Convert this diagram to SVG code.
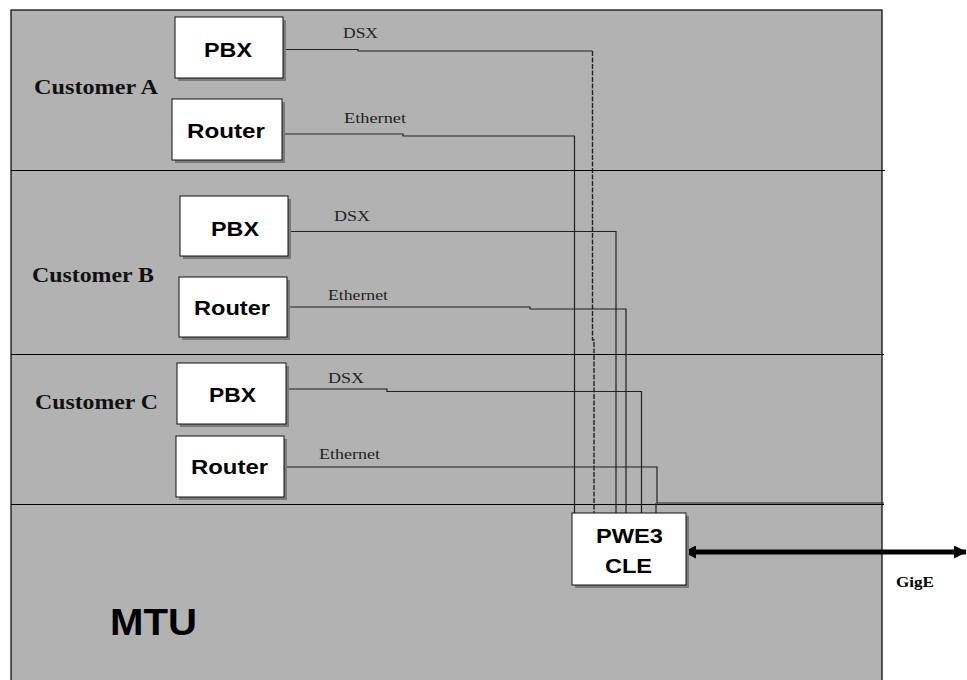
<svg xmlns="http://www.w3.org/2000/svg" width="967" height="680" viewBox="0 0 967 680">
  <style>
    .panel { fill: #b2b2b2; stroke: #000; stroke-width: 1.2; }
    .divider { stroke: #000; stroke-width: 1.2; fill: none; }
    .shadow { fill: #7a7a7a; }
    .box { fill: #fff; stroke: #111; stroke-width: 1; }
    .boxtext { font-family: "Liberation Sans", Arial, sans-serif; font-weight: bold; font-size: 20px; fill: #000; text-anchor: start; }
    .group-label { font-family: "Liberation Serif", "Times New Roman", serif; font-weight: bold; font-size: 20px; fill: #111; }
    .link-label { font-family: "Liberation Serif", "Times New Roman", serif; font-size: 14px; fill: #222; }
    .wire { fill: none; stroke: #222; stroke-width: 1.2; }
    .wire-dash { fill: none; stroke: #222; stroke-width: 1.4; stroke-dasharray: 5 1.5; }
    .trunk { fill: none; stroke: #000; stroke-width: 5; }
  </style>
  <defs>
    <!-- arrowhead drawn pointing along the path; reversed at the start -->
    <marker id="head" viewBox="0 0 12 12" refX="11" refY="6" markerWidth="13" markerHeight="13" markerUnits="userSpaceOnUse" orient="auto-start-reverse">
      <path d="M12,6 L0,0 L0,12 Z" fill="#000"/>
    </marker>
  </defs>

  <rect width="967" height="680" fill="#fff"/>

  <!-- MTU enclosure and customer bands -->
  <rect class="panel" x="11" y="10" width="871" height="680"/>
  <g id="bands">
    <line class="divider" x1="11" y1="170.5" x2="885" y2="170.5"/>
    <line class="divider" x1="11" y1="354.5" x2="884" y2="354.5"/>
    <line class="divider" x1="11" y1="504.5" x2="884" y2="504.5"/>
  </g>

  <!-- customer labels -->
  <text class="group-label" x="34" y="94" textLength="124" lengthAdjust="spacingAndGlyphs">Customer A</text>
  <text class="group-label" x="32" y="282" textLength="122" lengthAdjust="spacingAndGlyphs">Customer B</text>
  <text class="group-label" x="35" y="409" textLength="123" lengthAdjust="spacingAndGlyphs">Customer C</text>
  <text x="110" y="635" font-family="Liberation Sans, Arial, sans-serif" font-weight="bold" font-size="36" textLength="87" lengthAdjust="spacingAndGlyphs" fill="#000">MTU</text>

  <!-- connectors -->
  <g id="connectors">
    <!-- Customer A -->
    <polyline class="wire" points="283,49.5 358,49.5 358,51 592.5,51"/>
    <polyline class="wire-dash" points="592.5,51 592.5,340 594,340 594,513"/>
    <polyline class="wire" points="282,134 403,134 403,136 574.5,136 574.5,513"/>
    <!-- Customer B -->
    <polyline class="wire" points="288,231.5 616,231.5 616,513"/>
    <polyline class="wire" points="287,307 530,307 530,309 626,309 626,513"/>
    <!-- Customer C -->
    <polyline class="wire" points="286,389 387,389 387,391.5 641.5,391.5 641.5,513"/>
    <polyline class="wire" points="284,467 657,467 657,503 884,503"/>
    <line class="wire" x1="656" y1="503" x2="656" y2="513"/>
    <!-- GigE uplink -->
    <line class="trunk" x1="684" y1="552" x2="966" y2="552" marker-start="url(#head)" marker-end="url(#head)"/>
  </g>
  <text class="link-label" x="343" y="38" textLength="35" lengthAdjust="spacingAndGlyphs">DSX</text>
  <text class="link-label" x="344" y="123" textLength="62" lengthAdjust="spacingAndGlyphs">Ethernet</text>
  <text class="link-label" x="334" y="221" textLength="36" lengthAdjust="spacingAndGlyphs">DSX</text>
  <text class="link-label" x="328" y="300" textLength="60" lengthAdjust="spacingAndGlyphs">Ethernet</text>
  <text class="link-label" x="328" y="383" textLength="36" lengthAdjust="spacingAndGlyphs">DSX</text>
  <text class="link-label" x="319" y="459" textLength="61" lengthAdjust="spacingAndGlyphs">Ethernet</text>
  <text x="896" y="587" font-family="Liberation Serif, Times New Roman, serif" font-weight="bold" font-size="14" textLength="38" lengthAdjust="spacingAndGlyphs" fill="#000">GigE</text>

  <!-- nodes -->
  <g id="pbx-a">
    <rect class="shadow" x="178" y="20" width="108" height="61"/>
    <rect class="box" x="175" y="17" width="108" height="61"/>
    <text class="boxtext" x="204" y="57" textLength="48" lengthAdjust="spacingAndGlyphs">PBX</text>
  </g>
  <g id="router-a">
    <rect class="shadow" x="175" y="102" width="110" height="61"/>
    <rect class="box" x="172" y="99" width="110" height="61"/>
    <text class="boxtext" x="187" y="138" textLength="78" lengthAdjust="spacingAndGlyphs">Router</text>
  </g>
  <g id="pbx-b">
    <rect class="shadow" x="183" y="199" width="108" height="60"/>
    <rect class="box" x="180" y="196" width="108" height="60"/>
    <text class="boxtext" x="211" y="236" textLength="48" lengthAdjust="spacingAndGlyphs">PBX</text>
  </g>
  <g id="router-b">
    <rect class="shadow" x="182" y="280" width="108" height="60"/>
    <rect class="box" x="179" y="277" width="108" height="60"/>
    <text class="boxtext" x="194" y="315" textLength="76" lengthAdjust="spacingAndGlyphs">Router</text>
  </g>
  <g id="pbx-c">
    <rect class="shadow" x="180" y="366" width="109" height="61"/>
    <rect class="box" x="177" y="363" width="109" height="61"/>
    <text class="boxtext" x="209" y="402" textLength="47" lengthAdjust="spacingAndGlyphs">PBX</text>
  </g>
  <g id="router-c">
    <rect class="shadow" x="179" y="439" width="108" height="61"/>
    <rect class="box" x="176" y="436" width="108" height="61"/>
    <text class="boxtext" x="191" y="474" textLength="77" lengthAdjust="spacingAndGlyphs">Router</text>
  </g>
  <g id="pwe3-cle">
    <rect class="shadow" x="575" y="516" width="114" height="72"/>
    <rect class="box" x="572" y="513" width="114" height="72"/>
    <text class="boxtext" x="596" y="543" font-size="21" textLength="67" lengthAdjust="spacingAndGlyphs">PWE3</text>
    <text class="boxtext" x="605" y="573" font-size="21" textLength="47" lengthAdjust="spacingAndGlyphs">CLE</text>
  </g>
</svg>
